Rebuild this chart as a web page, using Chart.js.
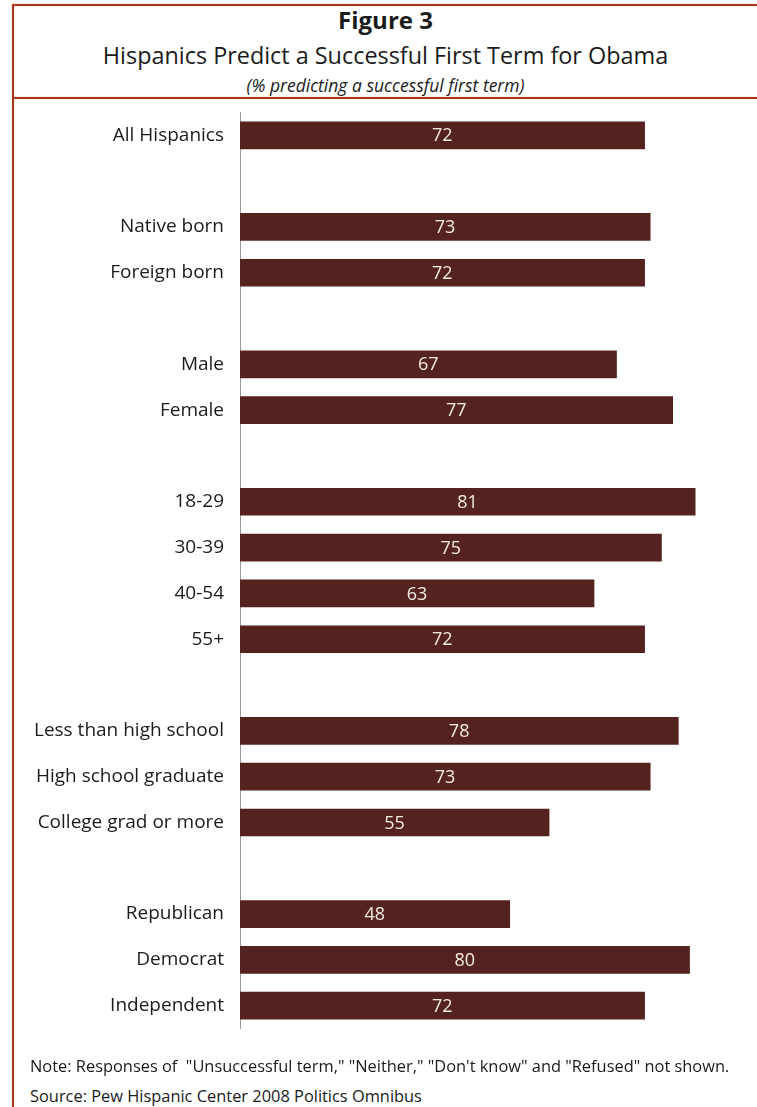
<!DOCTYPE html>
<html>
<head>
<meta charset="utf-8">
<script src="https://cdn.jsdelivr.net/npm/chart.js@4.4.1/dist/chart.umd.min.js"></script>
<style>
  html, body { margin: 0; padding: 0; background: #fff; }
  body { width: 757px; height: 1107px; position: relative; overflow: hidden; font-family: "Open Sans", sans-serif; color: #1b1b1b; }
  .rule-h { position: absolute; left: 12px; right: 0; height: 2px; background: #a9361b; box-shadow: 0 0 1.5px #e7b3a4; }
  .rule-v { position: absolute; left: 12px; top: 4px; bottom: 0; width: 2px; background: #a9361b; box-shadow: 0 0 1.5px #e7b3a4; }
  .head { position: absolute; left: 14px; right: 0; text-align: center; white-space: nowrap; line-height: 1; }
  #fig { top: 8px; font-size: 24px; font-weight: bold; }
  #ttl { top: 44px; font-size: 23.4px; }
  #sub { top: 76.5px; font-size: 17.5px; font-style: italic; }
  #box { position: absolute; left: 14px; top: 85px; width: 743px; height: 971px; }
  .foot { position: absolute; left: 30px; font-size: 16.4px; white-space: nowrap; line-height: 1; }
</style>
</head>
<body>
<div class="rule-h" style="top:4px"></div>
<div class="rule-h" style="top:97px"></div>
<div class="rule-v"></div>
<div class="head" id="fig">Figure 3</div>
<div class="head" id="ttl">Hispanics Predict a Successful First Term for Obama</div>
<div class="head" id="sub">(% predicting a successful first term)</div>
<div id="box"><canvas id="c"></canvas></div>
<div class="foot" style="top:1057.5px">Note: Responses of &nbsp;"Unsuccessful term," "Neither," "Don't know" and "Refused" not shown.</div>
<div class="foot" style="top:1088px">Source: Pew Hispanic Center 2008 Politics Omnibus</div>
<script>
// Groups, with empty rows separating them
const categories = [
  "All Hispanics", "",
  "Native born", "Foreign born", "",
  "Male", "Female", "",
  "18-29", "30-39", "40-54", "55+", "",
  "Less than high school", "High school graduate", "College grad or more", "",
  "Republican", "Democrat", "Independent"
];
const successShare = [
  72, null,
  73, 72, null,
  67, 77, null,
  81, 75, 63, 72, null,
  78, 73, 55, null,
  48, 80, 72
];

// Writes each value in the middle of its bar
const barValues = {
  id: 'barValues',
  afterDatasetsDraw(chart) {
    const ctx = chart.ctx;
    const meta = chart.getDatasetMeta(0);
    ctx.save();
    ctx.fillStyle = '#f3ebe3';
    ctx.font = '18px "Open Sans", sans-serif';
    ctx.textAlign = 'center';
    ctx.textBaseline = 'middle';
    meta.data.forEach((bar, i) => {
      const v = successShare[i];
      if (v === null) return;
      ctx.fillText(String(v), (bar.x + bar.base) / 2, bar.y + 1);
    });
    ctx.restore();
  }
};

new Chart(document.getElementById('c'), {
  type: 'bar',
  data: {
    labels: categories,
    datasets: [{
      data: successShare,
      backgroundColor: '#55231f',
      borderWidth: 0,
      barThickness: 27
    }]
  },
  options: {
    indexAxis: 'y',
    responsive: true,
    maintainAspectRatio: false,
    animation: false,
    layout: { padding: { top: 11, bottom: 11, left: 0, right: 0 } },
    plugins: { legend: { display: false }, tooltip: { enabled: false } },
    scales: {
      x: { display: false, min: 0, max: 92 },
      y: {
        grid: { display: false, drawTicks: false },
        border: { display: true, color: '#9a9a9a', width: 1 },
        ticks: {
          autoSkip: false,
          padding: 16,
          color: '#1b1b1b',
          font: { family: '"Open Sans", sans-serif', size: 19 }
        },
        afterFit(scale) { scale.width = 226; }
      }
    }
  },
  plugins: [barValues]
});
</script>
</body>
</html>
